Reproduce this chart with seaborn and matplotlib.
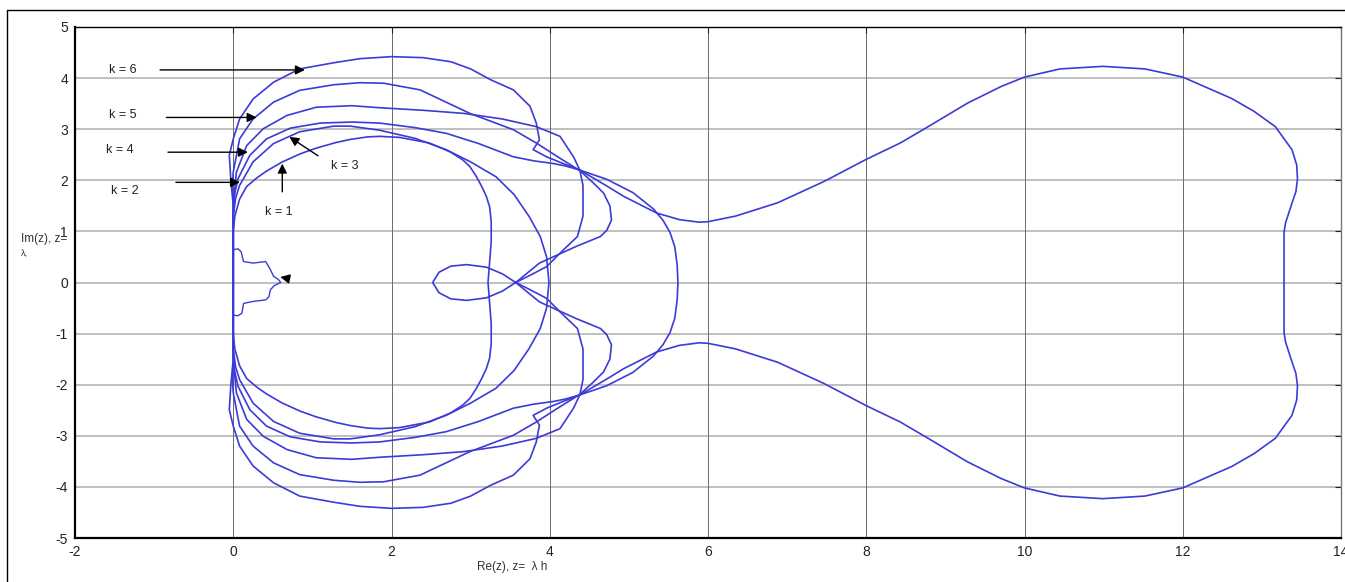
import matplotlib
matplotlib.use("Agg")
import matplotlib.pyplot as plt
from matplotlib.lines import Line2D
import seaborn as sns

# --- boundary curves, upper half (lower half is the mirror image) ---
k1_x = [0, 0, 0.02, 0.08, 0.17, 0.3, 0.42, 0.62, 0.85, 1.05, 1.3, 1.48, 1.7, 1.85, 2.1, 2.48, 2.75, 2.9, 2.99, 3.07, 3.14, 3.2, 3.24, 3.26, 3.26, 3.24, 3.22]
k1_y = [0, 1.0, 1.3, 1.63, 1.88, 2.05, 2.18, 2.36, 2.52, 2.63, 2.74, 2.8, 2.85, 2.86, 2.84, 2.73, 2.55, 2.4, 2.27, 2.08, 1.88, 1.68, 1.48, 1.2, 0.8, 0.4, 0]

k2_x = [0, 0, 0.03, 0.08, 0.25, 0.51, 0.84, 1.27, 1.48, 1.85, 2.3, 2.69, 3.0, 3.32, 3.55, 3.74, 3.88, 3.96, 3.99]
k2_y = [0, 1.3, 1.65, 1.9, 2.36, 2.72, 2.95, 3.06, 3.06, 2.98, 2.82, 2.6, 2.36, 2.07, 1.72, 1.29, 0.9, 0.5, 0]

k3_x = [0, 0, 0.02, 0.06, 0.21, 0.42, 0.72, 1.1, 1.5, 1.85, 2.3, 2.69, 3.1, 3.54, 3.8, 4.04, 4.2, 4.38, 4.72, 5.05, 5.31, 5.43, 5.52, 5.58, 5.61, 5.62]
k3_y = [0, 1.4, 1.75, 2.03, 2.49, 2.81, 3.02, 3.12, 3.14, 3.12, 3.03, 2.92, 2.72, 2.46, 2.38, 2.33, 2.28, 2.2, 2.02, 1.76, 1.44, 1.22, 0.98, 0.7, 0.35, 0]

k4_x = [0, 0, 0.02, 0.04, 0.17, 0.38, 0.68, 1.05, 1.5, 1.85, 2.4, 2.91, 3.4, 3.83, 4.13, 4.3, 4.38, 4.42, 4.42, 4.35, 4.14, 3.96, 3.75, 3.57]
k4_y = [0, 1.5, 1.85, 2.16, 2.68, 3.01, 3.27, 3.43, 3.46, 3.42, 3.37, 3.31, 3.2, 3.05, 2.86, 2.46, 2.2, 1.9, 1.3, 0.9, 0.59, 0.31, 0.14, 0]

# this one runs through the small loop, so its "upper" half ends on the lower loop arc
k5_x = [0, 0, -0.01, 0.0, 0.08, 0.25, 0.51, 0.84, 1.27, 1.6, 1.9, 2.36, 2.99, 3.54, 3.83, 4.1, 4.38, 4.55, 4.68, 4.76, 4.78, 4.72, 4.64, 4.34, 3.87, 3.57, 3.4, 3.2, 2.95, 2.75, 2.6, 2.52]
k5_y = [0, 1.6, 1.9, 2.16, 2.81, 3.2, 3.53, 3.76, 3.87, 3.91, 3.9, 3.77, 3.31, 2.99, 2.73, 2.46, 2.19, 1.95, 1.75, 1.5, 1.22, 1.02, 0.9, 0.71, 0.38, 0, -0.17, -0.3, -0.35, -0.32, -0.2, 0]

k6_x = [0, 0, -0.03, -0.05, 0.0, 0.08, 0.25, 0.51, 0.84, 1.27, 1.6, 2.0, 2.4, 2.75, 3.0, 3.25, 3.54, 3.75, 3.83, 3.87, 3.79, 3.96, 4.15, 4.38,
        4.72, 4.93, 5.35, 5.64, 5.89, 6.0, 6.35, 6.88, 7.47, 8.0, 8.43, 8.75, 9.28, 9.71, 10.0, 10.45, 10.99, 11.52, 12.0,
        12.62, 12.9, 13.17, 13.38, 13.44, 13.45, 13.43, 13.38, 13.3, 13.28, 13.28]
k6_y = [0, 1.5, 2.0, 2.49, 2.81, 3.2, 3.59, 3.92, 4.18, 4.3, 4.38, 4.42, 4.4, 4.32, 4.18, 3.97, 3.77, 3.45, 3.12, 2.79, 2.6, 2.46, 2.34, 2.2,
        1.89, 1.69, 1.36, 1.23, 1.18, 1.19, 1.3, 1.56, 1.98, 2.41, 2.73, 3.02, 3.51, 3.84, 4.02, 4.18, 4.23, 4.18, 4.02,
        3.6, 3.35, 3.05, 2.6, 2.3, 2.02, 1.78, 1.55, 1.17, 0.98, 0]

# small wiggly curve near the origin (whole path, not mirrored)
wig_x = [0, 0.06, 0.1, 0.13, 0.25, 0.41, 0.47, 0.51, 0.57, 0.6, 0.52, 0.47, 0.45, 0.41, 0.25, 0.13, 0.11, 0.06, 0]
wig_y = [0.64, 0.66, 0.6, 0.41, 0.38, 0.41, 0.25, 0.12, 0.06, 0.0, -0.06, -0.14, -0.28, -0.34, -0.37, -0.41, -0.6, -0.65, -0.64]

# annotation labels: text, text position, arrow tail, arrow tip
labels = ["k = 6", "k = 5", "k = 4", "k = 2", "k = 3", "k = 1", ""]
label_pos = [(-1.57, 4.16), (-1.57, 3.27), (-1.61, 2.59), (-1.55, 1.8), (1.23, 2.28), (0.4, 1.37), (0.72, 0.06)]
arrow_tail = [(-0.96, 4.16), (-0.88, 3.23), (-0.86, 2.55), (-0.76, 1.96), (1.1, 2.45), (0.62, 1.72), (0.74, 0.06)]
arrow_tip = [(0.94, 4.16), (0.33, 3.23), (0.22, 2.55), (0.12, 1.96), (0.68, 2.88), (0.62, 2.38), (0.56, 0.12)]

x_ticks = [-2, 0, 2, 4, 6, 8, 10, 12, 14]
y_ticks = [-5, -4, -3, -2, -1, 0, 1, 2, 3, 4, 5]

LINE = "#3b3bd6"


def closed(xs, ys):
    # upper half, then its mirror image traced back
    return xs + xs[::-1], ys + [-v for v in ys[::-1]]


sns.set_style("white")
plt.rcParams["font.family"] = ["Liberation Sans", "DejaVu Sans"]
plt.rcParams["axes.unicode_minus"] = False

fig = plt.figure(figsize=(13.45, 5.82), dpi=100)
ax = fig.add_axes([75 / 1345, 44 / 582, 1266 / 1345, 511 / 582])

for xs, ys in [(k1_x, k1_y), (k2_x, k2_y), (k3_x, k3_y), (k4_x, k4_y), (k5_x, k5_y), (k6_x, k6_y)]:
    cx, cy = closed(xs, ys)
    sns.lineplot(x=cx, y=cy, sort=False, estimator=None, color=LINE, lw=1.2, ax=ax)
sns.lineplot(x=wig_x, y=wig_y, sort=False, estimator=None, color=LINE, lw=1.0, ax=ax)

for txt, tp, tail, tip in zip(labels, label_pos, arrow_tail, arrow_tip):
    if txt:
        ax.text(tp[0], tp[1], txt, fontsize=9, color="#222222", va="center", ha="left")
    ax.annotate("", xy=tip, xytext=tail,
                arrowprops=dict(arrowstyle="-|>", color="black", lw=1.0, mutation_scale=14))

ax.set_xlim(-2, 14)
ax.set_ylim(-5, 5)
ax.set_xticks(x_ticks)
ax.set_yticks(y_ticks)
ax.tick_params(direction="in", length=4, labelsize=10, colors="#222222", top=True, right=True, pad=5)

for yv in y_ticks:
    ax.axhline(yv, color="#b4b4b4", lw=1.2, zorder=0)
for xv in x_ticks:
    ax.axvline(xv, color="#6a6a6a", lw=0.7, zorder=0)

for side in ["left", "bottom"]:
    ax.spines[side].set_color("black")
    ax.spines[side].set_linewidth(1.6)
ax.spines["top"].set_color("black")
ax.spines["top"].set_linewidth(1.0)
ax.spines["right"].set_color("#777777")
ax.spines["right"].set_linewidth(1.0)

ax.set_xlabel("Re(z), z=  λ h", fontsize=8.5, color="#333333")
ax.xaxis.set_label_coords(0.345, -0.045)
ax.text(-0.043, 0.585, "Im(z), z=", transform=ax.transAxes, fontsize=8.5, color="#333333", ha="left", va="center")
ax.text(-0.043, 0.558, "λ,", transform=ax.transAxes, fontsize=6.5, color="#333333", ha="left", va="center")

# thin frame lines around the picture
fig.add_artist(Line2D([0.0052, 0.0052], [0.0, 0.983], transform=fig.transFigure, color="black", lw=1.0))
fig.add_artist(Line2D([0.0052, 1.0], [0.983, 0.983], transform=fig.transFigure, color="black", lw=1.0))

fig.savefig("out.png", dpi=100)
